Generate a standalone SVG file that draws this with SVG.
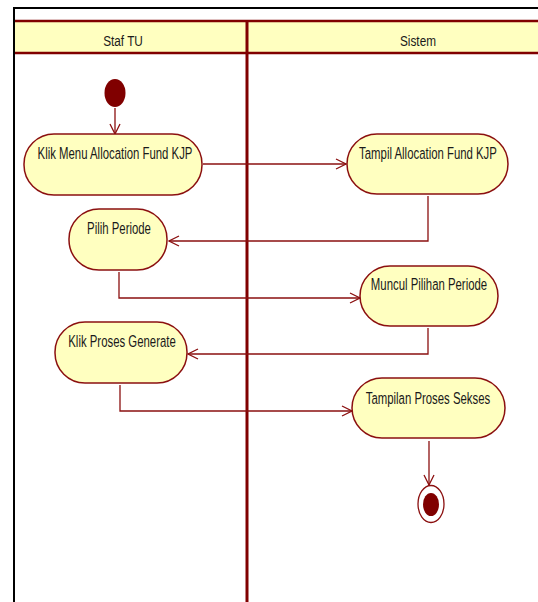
<svg xmlns="http://www.w3.org/2000/svg" width="538" height="602" viewBox="0 0 538 602">
  <style>
    .act { fill: #FFFFC0; stroke: #8B1010; stroke-width: 1.5; }
    .lbl { font-family: "Liberation Sans", Arial, sans-serif; font-size: 16.5px; fill: #1a1a1a; text-anchor: middle; }
    .hdr { font-family: "Liberation Sans", Arial, sans-serif; font-size: 15.5px; fill: #1a1a1a; text-anchor: middle; }
    .flow { fill: none; stroke: #8B1010; stroke-width: 1.3; }
    .lane { stroke: #800000; }
  </style>
  <defs>
    <marker id="open" viewBox="0 0 12 12" refX="11" refY="6" markerWidth="12" markerHeight="12" markerUnits="userSpaceOnUse" orient="auto">
      <path d="M1,1 L11,6 L1,11" fill="none" stroke="#8B1010" stroke-width="1.3"/>
    </marker>
  </defs>

  <rect width="538" height="602" fill="#ffffff"/>

  <!-- outer frame -->
  <g id="frame">
    <line x1="14" y1="8" x2="538" y2="8" stroke="#000" stroke-width="2"/>
    <line x1="14" y1="7" x2="14" y2="602" stroke="#000" stroke-width="2"/>
  </g>

  <!-- swimlane header -->
  <g id="lanes">
    <rect x="15" y="21" width="523" height="32" fill="#FFFFC0"/>
    <line class="lane" x1="15" y1="21" x2="538" y2="21" stroke-width="2.5"/>
    <line class="lane" x1="15" y1="53" x2="538" y2="53" stroke-width="2.5"/>
    <line class="lane" x1="247" y1="20" x2="247" y2="602" stroke-width="3"/>
    <text class="hdr" transform="translate(123,46) scale(0.76,1)">Staf TU</text>
    <text class="hdr" transform="translate(418,46) scale(0.76,1)">Sistem</text>
  </g>

  <!-- connectors -->
  <g id="connectors">
    <line class="flow" x1="115" y1="108" x2="115" y2="134" marker-end="url(#open)"/>
    <line class="flow" x1="203" y1="164" x2="346" y2="164" marker-end="url(#open)"/>
    <polyline class="flow" points="428,196 428,241 169,241" marker-end="url(#open)"/>
    <polyline class="flow" points="119,272 119,298 360,298" marker-end="url(#open)"/>
    <polyline class="flow" points="428,328 428,354 188,354" marker-end="url(#open)"/>
    <polyline class="flow" points="120,385 120,411 352,411" marker-end="url(#open)"/>
    <line class="flow" x1="429" y1="441" x2="429" y2="485" marker-end="url(#open)"/>
  </g>

  <!-- start node -->
  <g id="start">
    <ellipse cx="115" cy="93" rx="10.5" ry="14" fill="#800000"/>
  </g>

  <g id="klik-menu">
    <rect class="act" x="24" y="134" width="178" height="61" rx="30" ry="30"/>
    <text class="lbl" transform="translate(115,159) scale(0.69,1)">Klik Menu Allocation Fund KJP</text>
  </g>

  <g id="tampil-allocation">
    <rect class="act" x="347" y="134" width="161" height="60" rx="30" ry="30"/>
    <text class="lbl" transform="translate(428,159) scale(0.69,1)">Tampil Allocation Fund KJP</text>
  </g>

  <g id="pilih-periode">
    <rect class="act" x="69" y="209" width="98" height="61" rx="30" ry="30"/>
    <text class="lbl" transform="translate(119,234) scale(0.69,1)">Pilih Periode</text>
  </g>

  <g id="muncul-pilihan">
    <rect class="act" x="360" y="266" width="138" height="60" rx="30" ry="30"/>
    <text class="lbl" transform="translate(429,290) scale(0.69,1)">Muncul Pilihan Periode</text>
  </g>

  <g id="klik-proses">
    <rect class="act" x="55" y="322" width="132" height="61" rx="30" ry="30"/>
    <text class="lbl" transform="translate(122,347) scale(0.69,1)">Klik Proses Generate</text>
  </g>

  <g id="tampilan-proses">
    <rect class="act" x="352" y="378" width="153" height="60" rx="30" ry="30"/>
    <text class="lbl" transform="translate(428,404) scale(0.69,1)">Tampilan Proses Sekses</text>
  </g>

  <!-- end node -->
  <g id="end">
    <ellipse cx="431" cy="504" rx="13" ry="18.5" fill="#ffffff" stroke="#8B1010" stroke-width="1.3"/>
    <ellipse cx="431" cy="504.5" rx="8" ry="11.5" fill="#800000"/>
  </g>
</svg>
